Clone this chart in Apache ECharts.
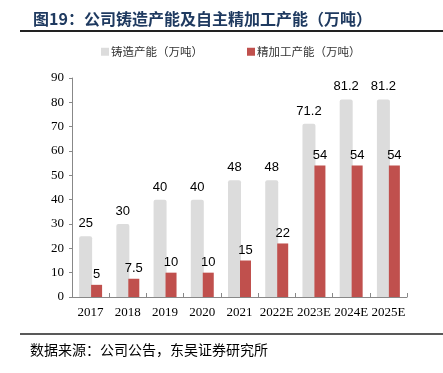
<!DOCTYPE html>
<html><head><meta charset="utf-8">
<script src="https://cdn.jsdelivr.net/npm/echarts@6/dist/echarts.min.js"></script>
<style>html,body{margin:0;padding:0;background:#fff}#c{width:443px;height:373px}</style>
</head><body><div id="c"></div>
<script>
var categories = ['2017','2018','2019','2020','2021','2022E','2023E','2024E','2025E'];
var castingCapacity = [25,30,40,40,48,48,71.2,81.2,81.2];
var machiningCapacity = [5,7.5,10,10,15,22,54,54,54];
var yTicks = {min:0,max:90,interval:10};

var chart = echarts.init(document.getElementById('c'));
var lblStyle = {show:true,position:'top',color:'#000',fontSize:13,fontFamily:'Liberation Sans, Arial',distance:4};
chart.setOption({
  animation:false,
  title:{text:'图19：公司铸造产能及自主精加工产能（万吨）',left:28,top:6,
    textStyle:{fontSize:16,fontWeight:'bold',color:'#1f3a60',fontFamily:'Noto Sans CJK SC'}},
  graphic:[
    {type:'line',shape:{x1:20,y1:31,x2:443,y2:31},style:{stroke:'#222',lineWidth:2}},
    {type:'line',shape:{x1:20,y1:334,x2:443,y2:334},style:{stroke:'#222',lineWidth:1.5}},
    {type:'text',left:30,top:343,style:{text:'数据来源：公司公告，东吴证券研究所',fontSize:14,fill:'#000',fontFamily:'Noto Sans CJK SC'}}
  ],
  legend:{top:41,left:96,itemWidth:8,itemHeight:8,itemGap:44,icon:'rect',
    textStyle:{fontSize:11.5,color:'#333',fontFamily:'Noto Sans CJK SC',padding:[0,0,0,-3]},
    data:['铸造产能（万吨）','精加工产能（万吨）']},
  grid:{left:72,right:36,top:78,bottom:76},
  xAxis:{type:'category',data:categories,
    axisLine:{lineStyle:{color:'#888'}},
    axisTick:{show:true,inside:true,length:4,lineStyle:{color:'#888'}},
    axisLabel:{interval:0,hideOverlap:false,color:'#000',fontSize:13,fontFamily:'Liberation Serif, Times New Roman',margin:9}},
  yAxis:{type:'value',min:yTicks.min,max:yTicks.max,interval:yTicks.interval,
    splitLine:{show:false},
    axisLine:{show:true,lineStyle:{color:'#888'}},
    axisTick:{show:true,length:3,lineStyle:{color:'#888'}},
    axisLabel:{color:'#000',fontSize:13,fontFamily:'Liberation Serif, Times New Roman',margin:8}},
  series:[
    {name:'铸造产能（万吨）',type:'bar',data:castingCapacity,barWidth:13,barGap:'-8%',
      itemStyle:{color:'#dcdcdc',borderRadius:[2,2,0,0]},label:Object.assign({},lblStyle,{distance:6})},
    {name:'精加工产能（万吨）',type:'bar',data:machiningCapacity,barWidth:11,
      itemStyle:{color:'#c0504d'},label:lblStyle}
  ]
});
</script></body></html>
